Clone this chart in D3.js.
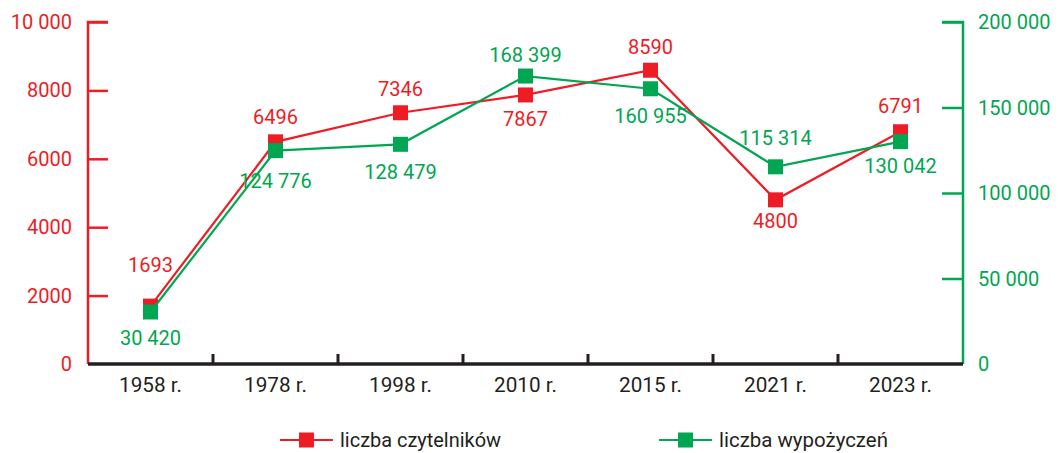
<!DOCTYPE html>
<html>
<head>
<meta charset="utf-8">
<script src="https://cdn.jsdelivr.net/npm/d3@7"></script>
<style>
  body { margin: 0; background: #fff; }
  svg text { font-family: Roboto, "Noto Sans", sans-serif; }
</style>
</head>
<body>
<svg id="chart" width="1058" height="453"></svg>
<script>
const years = ['1958 r.', '1978 r.', '1998 r.', '2010 r.', '2015 r.', '2021 r.', '2023 r.'];
const readers = [1693, 6496, 7346, 7867, 8590, 4800, 6791];
const loans = [30420, 124776, 128479, 168399, 160955, 115314, 130042];
const leftTicks = [0, 2000, 4000, 6000, 8000, 10000];
const rightTicks = [0, 50000, 100000, 150000, 200000];
// label offsets from point (px)
const readersDy = [-41, -25, -24, 24, -23, 21, -26];
const loansDy = [26, 30, 28, -21, 27, -29, 24];

const RED = '#ee1c25', GREEN = '#00a651', DARK = '#231f20';
const fmt = v => v >= 10000 ? d3.format(',')(v).replace(/,/g, ' ') : String(v);

const svg = d3.select('#chart');
const margin = { left: 88, right: 95, top: 22, bottom: 89 };
const W = 1058, H = 453;
const x = d3.scaleBand().domain(years).range([margin.left, W - margin.right]);
const yL = d3.scaleLinear().domain([0, 10000]).range([H - margin.bottom, margin.top]);
const yR = d3.scaleLinear().domain([0, 200000]).range([H - margin.bottom, margin.top]);
const cx = d => x(d) + x.bandwidth() / 2;

// left axis
const gL = svg.append('g').attr('transform', `translate(${margin.left},0)`)
  .call(d3.axisRight(yL).tickValues(leftTicks).tickSize(20).tickFormat(''));
gL.selectAll('path, line').attr('stroke', RED).attr('stroke-width', 2.5);
gL.select('.domain').attr('d', `M20,${yL(10000)}H0V${yL(0)}`);
gL.selectAll('.tick').filter(d => d === 0).remove();
svg.append('g').selectAll('text').data(leftTicks).join('text')
  .attr('x', margin.left - 16).attr('y', d => yL(d)).attr('dy', '0.35em')
  .attr('text-anchor', 'end').attr('fill', RED).attr('font-size', 20)
  .text(fmt);

// right axis
const xr = W - margin.right;
const gR = svg.append('g').attr('transform', `translate(${xr},0)`)
  .call(d3.axisLeft(yR).tickValues(rightTicks).tickSize(21).tickFormat(''));
gR.selectAll('path, line').attr('stroke', GREEN).attr('stroke-width', 2.5);
gR.select('.domain').attr('d', `M-21,${yR(200000)}H0V${yR(0)}`);
gR.selectAll('.tick').filter(d => d === 0).remove();
svg.append('g').selectAll('text').data(rightTicks).join('text')
  .attr('x', xr + 15).attr('y', d => yR(d)).attr('dy', '0.35em')
  .attr('text-anchor', 'start').attr('fill', GREEN).attr('font-size', 20)
  .text(fmt);

// x axis
const y0 = yL(0);
svg.append('line').attr('x1', margin.left).attr('x2', xr).attr('y1', y0).attr('y2', y0)
  .attr('stroke', DARK).attr('stroke-width', 3.5);
svg.append('g').selectAll('line').data(years.slice(1)).join('line')
  .attr('x1', d => x(d)).attr('x2', d => x(d)).attr('y1', y0).attr('y2', y0 - 10)
  .attr('stroke', DARK).attr('stroke-width', 3);
svg.append('g').selectAll('text').data(years).join('text')
  .attr('x', cx).attr('y', y0 + 21).attr('dy', '0.35em')
  .attr('text-anchor', 'middle').attr('fill', DARK).attr('font-size', 21)
  .attr('textLength', 63).attr('lengthAdjust', 'spacingAndGlyphs').text(d => d);

function series(values, y, color, dys) {
  const line = d3.line().x((d, i) => cx(years[i])).y(d => y(d));
  svg.append('path').datum(values).attr('d', line)
    .attr('fill', 'none').attr('stroke', color).attr('stroke-width', 2.2);
  svg.append('g').selectAll('rect').data(values).join('rect')
    .attr('x', (d, i) => cx(years[i]) - 7.5).attr('y', d => y(d) - 7.5)
    .attr('width', 15).attr('height', 15).attr('fill', color);
  svg.append('g').selectAll('text').data(values).join('text')
    .attr('x', (d, i) => cx(years[i])).attr('y', (d, i) => y(d) + dys[i]).attr('dy', '0.35em')
    .attr('text-anchor', 'middle').attr('fill', color).attr('font-size', 20)
    .text(fmt);
}
series(readers, yL, RED, readersDy);
series(loans, yR, GREEN, loansDy);

// legend
const legend = [
  { name: 'liczba czytelników', color: RED, x: 280, w: 161 },
  { name: 'liczba wypożyczeń', color: GREEN, x: 659, w: 169 }
];
const ly = 440;
const lg = svg.append('g').selectAll('g').data(legend).join('g')
  .attr('transform', d => `translate(${d.x},${ly})`);
lg.append('line').attr('x1', 0).attr('x2', 53).attr('stroke', d => d.color).attr('stroke-width', 2.2);
lg.append('rect').attr('x', 19).attr('y', -7.5).attr('width', 15).attr('height', 15).attr('fill', d => d.color);
lg.append('text').attr('x', 60).attr('dy', '0.35em').attr('fill', DARK).attr('font-size', 21)
  .attr('textLength', d => d.w).attr('lengthAdjust', 'spacingAndGlyphs').text(d => d.name);
</script>
</body>
</html>
